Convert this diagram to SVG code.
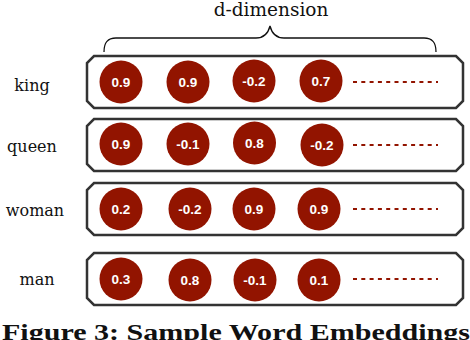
<svg xmlns="http://www.w3.org/2000/svg" width="470" height="340" viewBox="0 0 470 340">
<defs>
<style>
.box{fill:#fff;stroke:#333;stroke-width:2.5;stroke-linejoin:miter}
.c{fill:#921400}
.v{fill:#fff;font-family:"Liberation Sans",Arial,sans-serif;font-weight:bold;font-size:13.5px;text-anchor:middle}
.lbl{fill:#111;font-family:"DejaVu Serif",serif;font-size:16px;text-anchor:middle}
.dash{stroke:#921400;stroke-width:2;stroke-dasharray:4 4.3;fill:none}
.brace{fill:none;stroke:#111;stroke-width:1.3}
</style>
<path id="oct" d="M94,0 H456 L463,7 V45 L456,52 H94 L87,45 V7 Z"/>
</defs>
<rect width="470" height="340" fill="#fff"/>
<text x="271" y="16" style="font-family:'DejaVu Serif',serif;font-size:18.5px;fill:#111;text-anchor:middle">d-dimension</text>
<path class="brace" d="M104,52 C104,43 107,38 116,38 H256 C264,38 268,34 270,26 C272,34 276,38 284,38 H424 C433,38 436,43 436,52"/>
<g id="row-king">
<use href="#oct" class="box" y="56"/>
<text class="lbl" x="32" y="91">king</text>
<circle class="c" cx="121" cy="82" r="21.5"/><text class="v" x="121" y="87">0.9</text>
<circle class="c" cx="188" cy="82" r="21.5"/><text class="v" x="188" y="87">0.9</text>
<circle class="c" cx="254" cy="81" r="21.5"/><text class="v" x="254" y="86">-0.2</text>
<circle class="c" cx="321" cy="81" r="21.5"/><text class="v" x="321" y="86">0.7</text>
<line class="dash" x1="353" y1="82" x2="438" y2="82"/>
</g>
<g id="row-queen">
<use href="#oct" class="box" y="119"/>
<text class="lbl" x="32" y="152">queen</text>
<circle class="c" cx="121" cy="144" r="21.5"/><text class="v" x="121" y="149">0.9</text>
<circle class="c" cx="188" cy="144" r="21.5"/><text class="v" x="188" y="149">-0.1</text>
<circle class="c" cx="254.5" cy="143" r="21.5"/><text class="v" x="254.5" y="148">0.8</text>
<circle class="c" cx="322" cy="145" r="21.5"/><text class="v" x="322" y="150">-0.2</text>
<line class="dash" x1="353" y1="145" x2="438" y2="145"/>
</g>
<g id="row-woman">
<use href="#oct" class="box" y="183"/>
<text class="lbl" x="35" y="216">woman</text>
<circle class="c" cx="121" cy="209" r="21.5"/><text class="v" x="121" y="214">0.2</text>
<circle class="c" cx="190" cy="209" r="21.5"/><text class="v" x="190" y="214">-0.2</text>
<circle class="c" cx="254" cy="209" r="21.5"/><text class="v" x="254" y="214">0.9</text>
<circle class="c" cx="319" cy="209" r="21.5"/><text class="v" x="319" y="214">0.9</text>
<line class="dash" x1="353" y1="209" x2="438" y2="209"/>
</g>
<g id="row-man">
<use href="#oct" class="box" y="253"/>
<text class="lbl" x="37" y="285">man</text>
<circle class="c" cx="121" cy="279" r="21.5"/><text class="v" x="121" y="284">0.3</text>
<circle class="c" cx="190" cy="280" r="21.5"/><text class="v" x="190" y="285">0.8</text>
<circle class="c" cx="255" cy="280" r="21.5"/><text class="v" x="255" y="285">-0.1</text>
<circle class="c" cx="319" cy="280" r="21.5"/><text class="v" x="319" y="285">0.1</text>
<line class="dash" x1="353" y1="279" x2="438" y2="279"/>
</g>
<text x="2" y="340" textLength="468" lengthAdjust="spacingAndGlyphs" style="font-family:'Liberation Serif',serif;font-weight:bold;font-size:23px;fill:#111">Figure 3: Sample Word Embeddings</text>
</svg>
